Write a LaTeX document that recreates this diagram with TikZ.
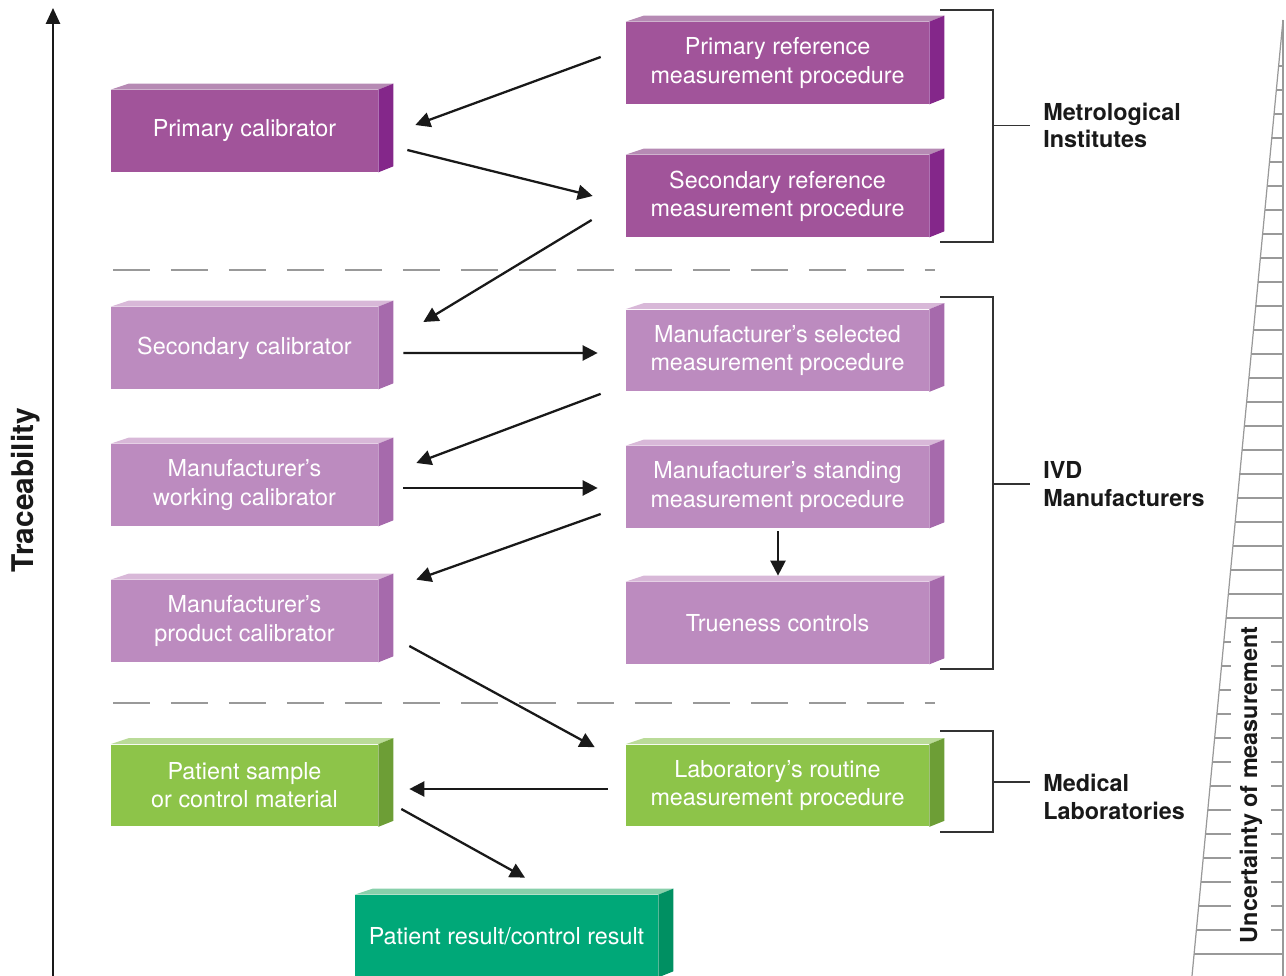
\documentclass[tikz,border=0pt]{standalone}
\usepackage{fontspec}
\setmainfont{TeX Gyre Heros}
\usepackage{tikz}
\usetikzlibrary{arrows.meta,calc}
\usepackage{xcolor}
\definecolor{dkfront}{HTML}{A1549A}
\definecolor{dktop}{HTML}{B68AB4}
\definecolor{dkside}{HTML}{84278A}
\definecolor{ltfront}{HTML}{BC8BBF}
\definecolor{lttop}{HTML}{D8B8D8}
\definecolor{ltside}{HTML}{A66AAC}
\definecolor{grfront}{HTML}{8DC449}
\definecolor{grtop}{HTML}{BADB98}
\definecolor{grside}{HTML}{6D9E36}
\definecolor{tlfront}{HTML}{00A878}
\definecolor{tltop}{HTML}{88D0AB}
\definecolor{tlside}{HTML}{009062}

\begin{document}
\begin{tikzpicture}[x=0.02cm,y=-0.02cm,
    block/.style={fill=#1front, text=white, minimum height=1.64cm, inner sep=0pt,
        align=center, font=\fontsize{13.3}{16}\selectfont},
    colL/.style={minimum width=5.34cm},
    colR/.style={minimum width=6.06cm},
    arr/.style={-{Triangle[length=8.5pt,width=8.5pt]}, line width=1.3pt, black!90},
    brace/.style={line width=0.7pt, black!80},
    group/.style={anchor=west, align=left, inner xsep=0pt, text=black!90,
        font=\fontsize{13.3}{15.5}\selectfont\bfseries},
    wedge/.style={line width=0.7pt, black!40},
    sep/.style={line width=1.1pt, black!40, dash pattern=on 21 off 12}]
    \useasboundingbox (0,0) rectangle (1286,976);

    % traceability axis
    \draw[line width=1.2pt, black!90, -{Triangle[length=9pt,width=8pt]}] (53,976) -- (53,8);
    \node[rotate=90, font=\fontsize{17}{20}\selectfont\bfseries, text=black!90] (trace) at (26,490) {Traceability};

    % metrological institutes
    \node[block=dk, colR] (pref) at (777.5,63) {Primary reference\\measurement procedure};
    \node[block=dk, colR] (sref) at (777.5,196) {Secondary reference\\measurement procedure};
    \node[block=dk, colL] (pcal) at (244.5,131) {Primary calibrator};
    % ivd manufacturers
    \node[block=lt, colL] (scal) at (244.5,348) {Secondary calibrator};
    \node[block=lt, colR] (msel) at (777.5,350.5) {Manufacturer’s selected\\measurement procedure};
    \node[block=lt, colL] (wcal) at (244.5,485) {Manufacturer’s\\working calibrator};
    \node[block=lt, colR] (mstd) at (777.5,487) {Manufacturer’s standing\\measurement procedure};
    \node[block=lt, colL] (prcal) at (244.5,621) {Manufacturer’s\\product calibrator};
    \node[block=lt, colR] (trues) at (777.5,623) {Trueness controls};
    % medical laboratories
    \node[block=gr, colL] (psam) at (244.5,785.5) {Patient sample\\or control material};
    \node[block=gr, colR] (lab) at (777.5,785.5) {Laboratory’s routine\\measurement procedure};
    \node[block=tl, colR] (pres) at (506.5,936) {Patient result/control result};

    % top and side faces
    \foreach \n/\c in {pref/dk, sref/dk, pcal/dk, scal/lt, msel/lt, wcal/lt, mstd/lt,
                        prcal/lt, trues/lt, psam/gr, lab/gr, pres/tl} {
        \fill[\c top] (\n.north west) -- ++(18,-6) -- ($(\n.north east)+(15,-6)$) -- (\n.north east) -- cycle;
        \fill[\c side] (\n.north east) -- ++(15,-6) -- ($(\n.south east)+(15,-6)$) -- (\n.south east) -- cycle;
    }

    % separators
    \draw[sep] (113,270) -- (935,270);
    \draw[sep] (113,703) -- (935,703);

    % arrows
    \draw[arr] ([shift={(-25,-6)}]pref.west) -- ([shift={(37,-6)}]pcal.east);
    \draw[arr] ([shift={(29,19)}]pcal.east) -- ([shift={(-33,0)}]sref.west);
    \draw[arr] ([shift={(-34,24)}]sref.west) -- ([shift={(45,-26)}]scal.east);
    \draw[arr] ([shift={(25,5)}]scal.east) -- ([shift={(-28,2.5)}]msel.west);
    \draw[arr] ([shift={(-25,2)}]msel.south west) -- ([shift={(38,-22)}]wcal.east);
    \draw[arr] ([shift={(25,3)}]wcal.east) -- ([shift={(-28,1)}]mstd.west);
    \draw[arr] ([shift={(-25,27)}]mstd.west) -- ([shift={(38,0)}]prcal.north east);
    \draw[arr] ([shift={(0.5,3)}]mstd.south) -- ([shift={(0.5,-6)}]trues.north);
    \draw[arr] ([shift={(31,25)}]prcal.east) -- ([shift={(-31,3)}]lab.north west);
    \draw[arr] ([shift={(-18,3.5)}]lab.west) -- ([shift={(31,3.5)}]psam.east);
    \draw[arr] ([shift={(23,23.5)}]psam.east) -- ([shift={(18.5,-17)}]pres.north);

    % group brackets
    \node[group] (metro) at (1043,125.5) {Metrological\\Institutes};
    \node[group] (ivd) at (1043,484) {IVD\\Manufacturers};
    \node[group] (medlab) at (1043,797) {Medical\\Laboratories};
    \draw[brace] (940,10) -- (993,10) -- (993,242) -- (940,242);
    \draw[brace] (993,125.5) -- ([shift={(-13,0)}]metro.west);
    \draw[brace] (940,297) -- (993,297) -- (993,669) -- (940,669);
    \draw[brace] (993,484) -- ([shift={(-13,0)}]ivd.west);
    \draw[brace] (940,731) -- (993,731) -- (993,832) -- (940,832);
    \draw[brace] (993,782) -- ([shift={(-13,-15)}]medlab.west);

    % uncertainty wedge
    \draw[wedge] (1283,20) -- (1192,976);
    \draw[wedge] (1283,20) -- (1283,976);
    \foreach \y in {66,90,...,954}
        \draw[wedge] ({1283-0.0952*(\y-20)},\y) -- (1283,\y);
    \node[rotate=90, fill=white, inner xsep=3pt, inner ysep=5pt, text=black!90,
          font=\fontsize{13.3}{15.5}\selectfont\bfseries] (uncert) at (1251,785) {Uncertainty of measurement};
\end{tikzpicture}
\end{document}
